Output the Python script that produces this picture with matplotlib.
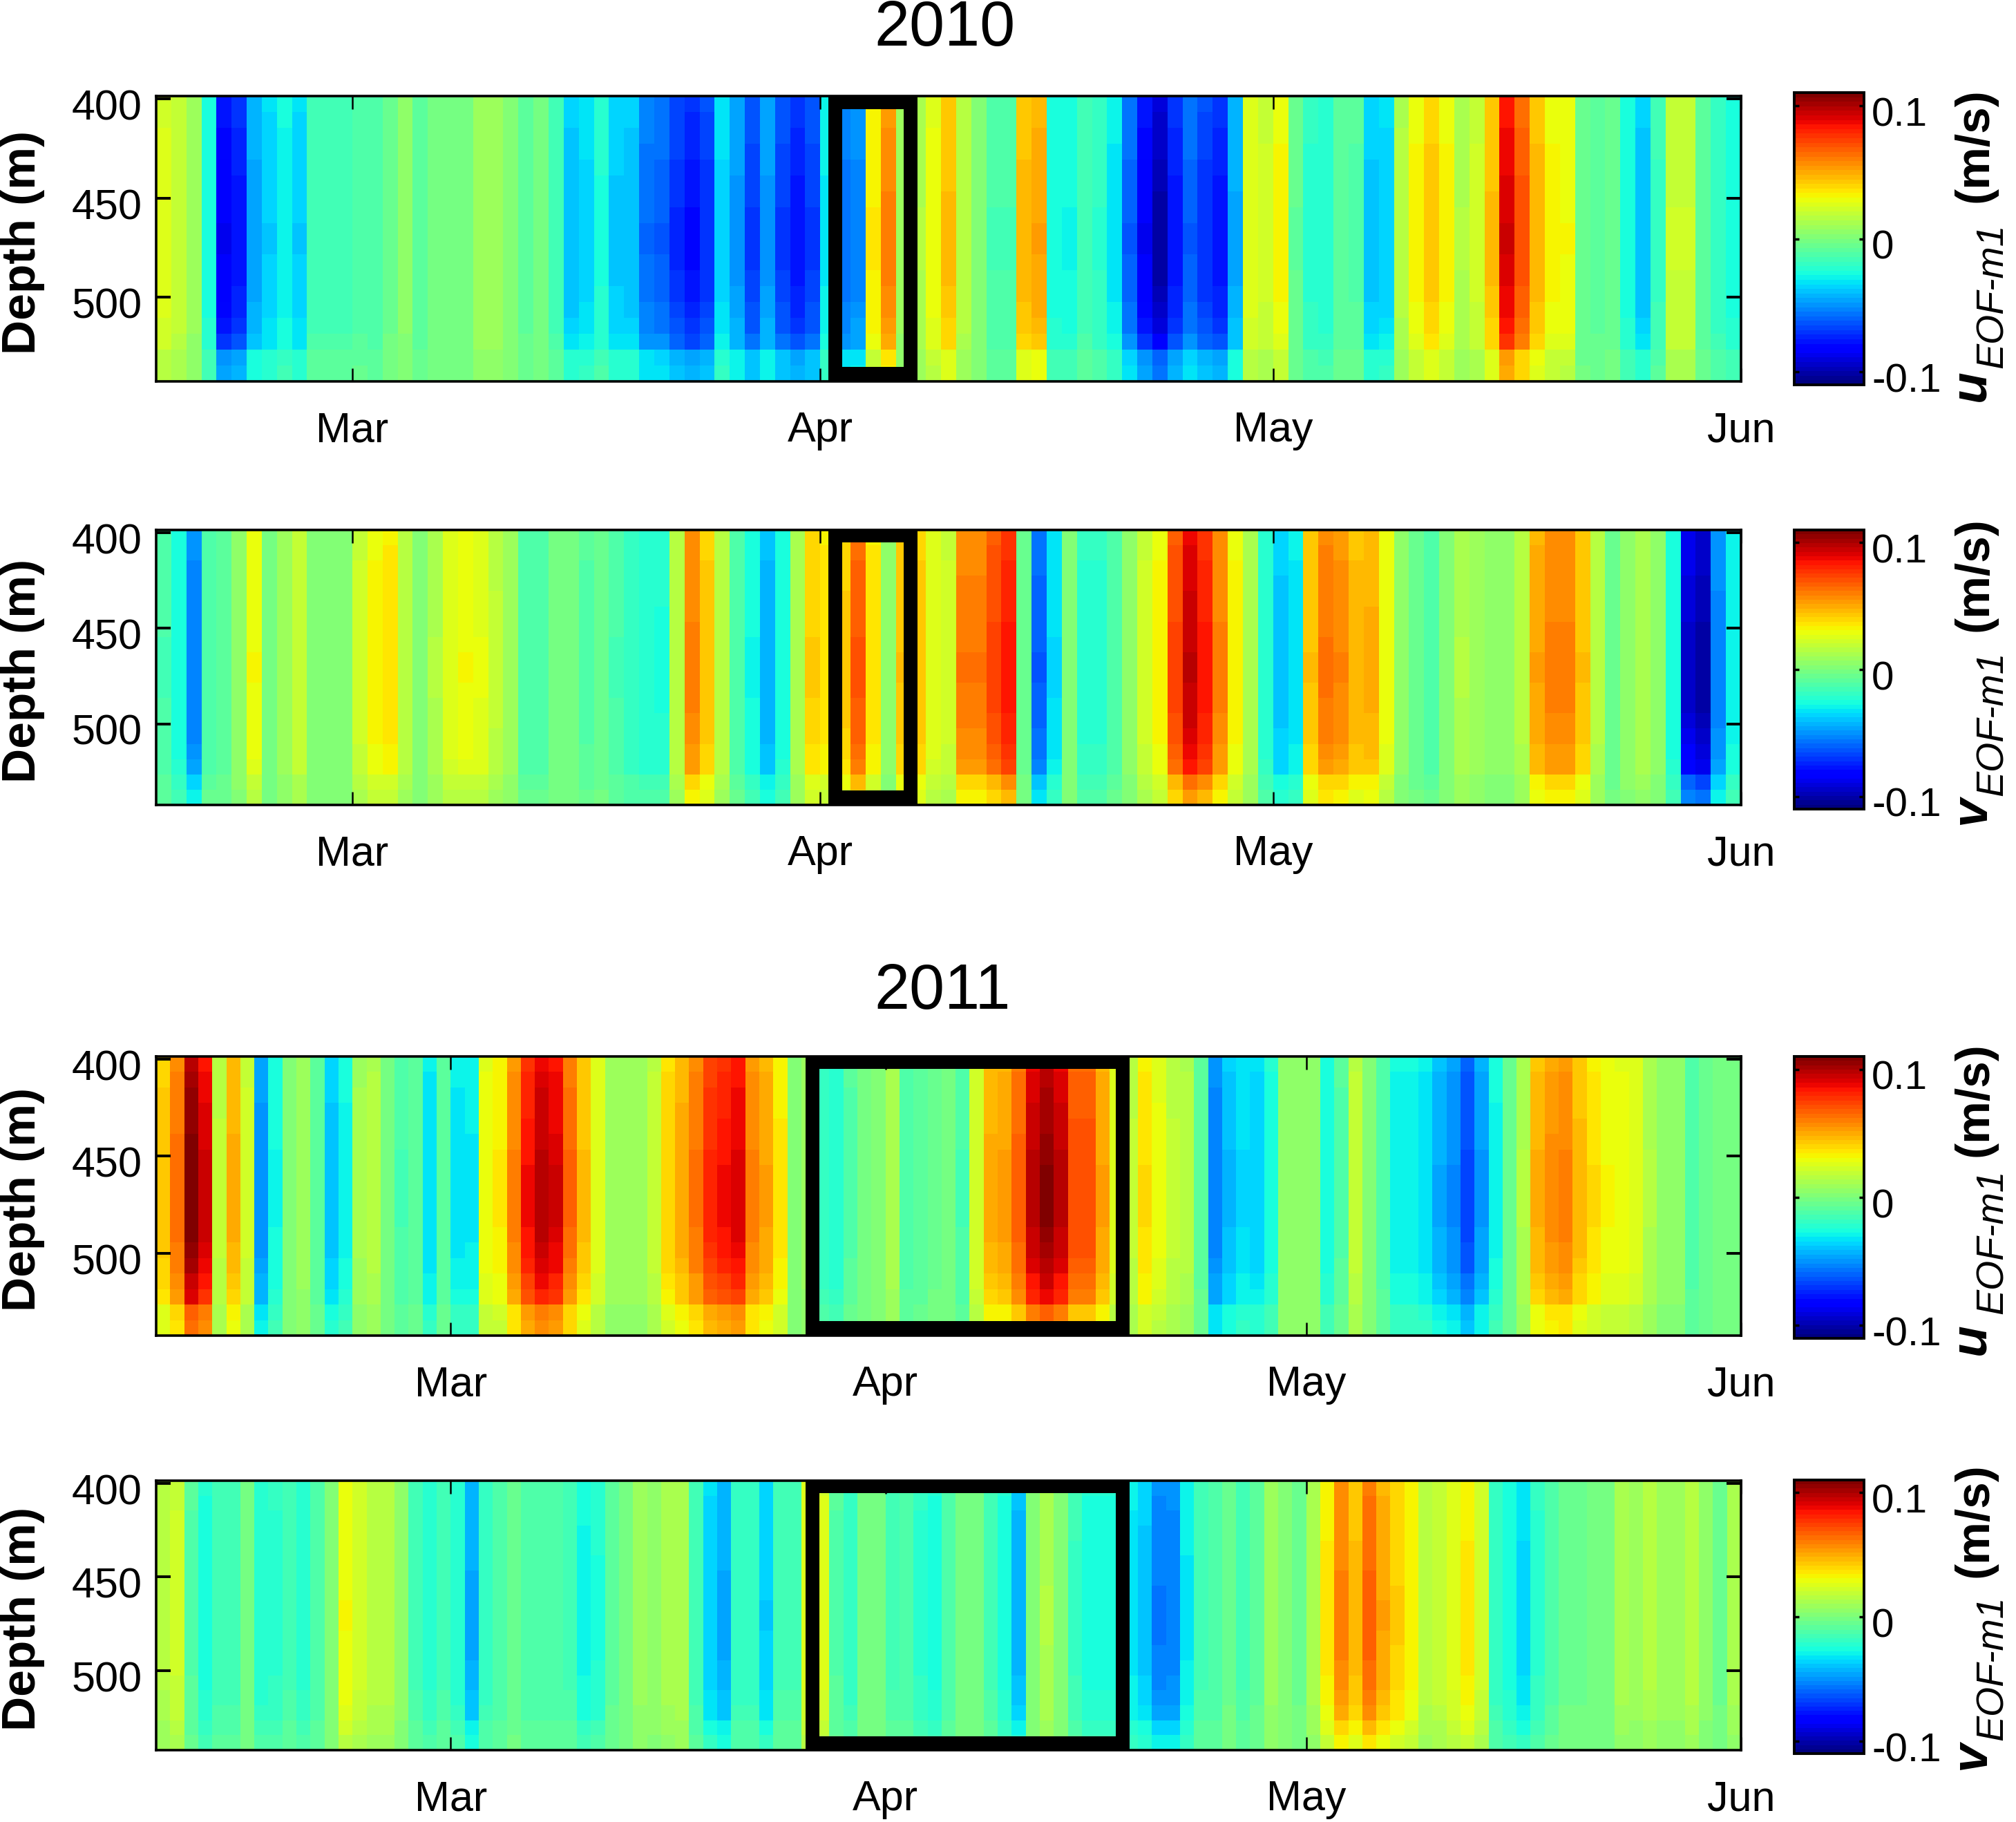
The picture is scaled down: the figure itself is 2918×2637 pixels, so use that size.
import matplotlib
matplotlib.use('Agg')
import matplotlib.pyplot as plt
import matplotlib.transforms as mtrans
from matplotlib.patches import Rectangle
import numpy as np

plt.rcParams['font.family'] = ['Liberation Sans', 'DejaVu Sans']

W, H = 2918, 2637

# mid-depth amplitude of each daily column, mm/s
u10 = [26,20,8,-27,-86,-78,-47,-38,-30,-38, -16,-16,-16,-12,-13,-4,4,-10,-1,-1,
       -1,9,10,1,-8,-1,-16,-41,-36,-25, -39,-41,-59,-62,-73,-80,-72,-36,-50,-70,
       -50,-70,-78,-70,-32,-58,-54,35,60,8, 14,30,46,16,1,-14,-14,47,52,-27,
       -28,-16,-21,-33,-62,-86,-102,-78,-62,-72, -78,-46,27,22,33,-7,-22,-24,-9,-11,
       -40,-37,15,33,44,33,14,22,46,93, 71,48,33,31,-6,-8,-5,-27,-41,-18,
       21,21,-9,-20,-27]
v10 = [-14,-27,-55,-12,-8,6,31,-3,8,20, 1,1,3,22,33,37,16,2,14,27,
       31,28,18,8,-12,-12,-3,-3,-11,-6, -14,-20,-24,-25,17,60,44,16,-12,-28,
       -44,-27,13,42,37,43,70,37,5,45, 44,27,22,62,62,74,85,-5,-62,-35,
       1,-22,-22,-12,5,22,33,74,97,85, 60,33,13,-23,-40,-33,45,63,59,48,
       50,30,4,-6,-12,1,14,9,5,4, 15,52,60,60,45,15,-6,6,12,5,
       -27,-95,-102,-54,-30]
u11 = [44,64,110,95,18,50,22,-51,-28,3, 8,-10,-40,-29,11,15,-3,-14,-10,-34,
       -10,-33,-32,30,35,60,86,99,93,66, 46,27,10,10,10,19,41,51,63,81,
       86,92,60,52,36,1,8,-20,-24,-11, -1,0,12,-12,-10,-4,-1,-14,24,50,
       53,68,98,107,98,72,72,52,27,18, 38,29,18,15,-8,-55,-42,-35,-37,-26,
       6,6,6,-27,-11,19,3,-12,-30,-30, -34,-45,-52,-67,-49,-29,-6,14,49,57,
       60,47,38,31,30,27,14,5,5,-12, -6,-1,-1]
v11 = [15,22,-11,-26,-16,-16,-3,-24,-22,-15, -23,-13,1,31,23,16,16,5,-15,-23,
       -15,-24,-46,-20,-13,-6,-13,-13,-13,-15, -29,-25,-8,-3,8,6,12,13,-16,-37,
       -46,-20,-20,-38,-15,-15,27,26,-11,-20, -3,-3,-15,-13,-22,-26,-13,-3,-3,-15,
       -26,-44,1,14,1,-18,-26,-26,-26,-33, -40,-56,-55,-32,-15,-13,-4,-15,-8,8,
       2,-4,12,36,60,47,67,52,42,34, 16,20,27,36,23,-20,-27,-36,-22,-12,
       -4,-4,-3,-3,12,9,15,9,9,16, 5,-4,12]

# depth shape of the mode, 18 rows of 8 m, fraction of the mid-depth value
shape_u10 = [.90,.91,.93,.94,.96,.97,.98,.99,1,1,.99,.98,.96,.93,.89,.83,.58,.55]
shape_v10 = [.92,.93,.94,.95,.96,.97,.98,.99,1,1,.99,.98,.96,.94,.90,.86,.65,.55]
shape_u11 = [.90,.93,.94,.95,.96,.97,.99,1,1,1,1,.98,.96,.93,.87,.82,.62,.58]
shape_v11 = [.92,.93,.94,.95,.96,.97,.98,.99,1,1,.99,.98,.96,.93,.89,.85,.67,.54]

depth_edges = np.arange(19) * 8 + 398.5
start_doy = [47, 47, 39, 39]  # Feb 16 2010, Feb 8 2011
month_doy = [60, 91, 121, 152]
month_names = ['Mar', 'Apr', 'May', 'Jun']
depth_ticks = [400, 450, 500]
cbar_ticks = [-0.1, 0, 0.1]
cbar_labels = ['-0.1', '0', '0.1']
comp_names = ['u', 'v', 'u', 'v']

series = [u10, v10, u11, v11]
shapes = [shape_u10, shape_v10, shape_u11, shape_v11]
# day-of-year limits of the black boxes
box_days = [(92, 97), (92, 97), (85.8, 107.9), (85.8, 107.9)]

# pixel layout (top, bottom) of the axes and colorbars
ax_px = [(139, 552), (767, 1165), (1529, 1933), (2143, 2533)]
cb_px = [(134, 557), (767, 1171), (1529, 1937), (2142, 2538)]
# centres of the side label pieces: (m/s), subscript, u or v
lab_px = [(210, 428, 558), (831, 1047, 1172), (1591, 1797, 1938), (2200, 2414, 2540)]


def px_rect(x0, x1, y0, y1):
    return [x0 / W, 1 - y1 / H, (x1 - x0) / W, (y1 - y0) / H]


fig = plt.figure(figsize=(W / 100, H / 100), dpi=100)
cmap = plt.get_cmap('jet', 64)
offset = mtrans.ScaledTranslation(0, -6 / 72, fig.dpi_scale_trans)

for i in range(4):
    ax = fig.add_axes(px_rect(226, 2520, *ax_px[i]))
    vals = np.outer(shapes[i], series[i]) / 1000.0
    x_edges = start_doy[i] + np.arange(len(series[i]) + 1)
    mesh = ax.pcolormesh(x_edges, depth_edges, vals, cmap=cmap, vmin=-0.11, vmax=0.11)
    ax.set_xlim(x_edges[0], x_edges[-1])
    ax.set_ylim(depth_edges[-1], depth_edges[0])
    ax.set_xticks(month_doy)
    ax.set_xticklabels(month_names)
    ax.set_yticks(depth_ticks)
    ax.tick_params(axis='x', direction='in', top=True, length=13.5, width=1.8, pad=31, labelsize=44)
    ax.tick_params(axis='y', direction='in', right=True, length=15, width=2.8, pad=15, labelsize=44)
    for lab in ax.get_yticklabels():
        lab.set_transform(lab.get_transform() + offset)
    for sp in ax.spines.values():
        sp.set_linewidth(2.6)

    b0, b1 = box_days[i]
    ax.add_patch(Rectangle((b0, 401.5), b1 - b0, 137.2, fill=False, ec='k', lw=14.4, joinstyle='miter'))

    mid = sum(ax_px[i]) / 2
    fig.text(33 / W, 1 - (mid + 5) / H, 'Depth (m)', rotation=90, ha='center', va='center',
             fontsize=50, fontweight='bold')

    cax = fig.add_axes(px_rect(2597, 2698, *cb_px[i]))
    cb = fig.colorbar(mesh, cax=cax, ticks=cbar_ticks)
    cb.set_ticklabels(cbar_labels)
    cax.yaxis.set_ticks_position('both')
    cax.tick_params(axis='y', direction='in', length=5, width=2.5, pad=8, labelsize=42,
                    left=True, right=True, labelleft=False, labelright=True)
    for lab in cax.get_yticklabels():
        lab.set_transform(lab.get_transform() + offset)
    cb.outline.set_linewidth(2.8)

    y_unit, y_sub, y_comp = lab_px[i]
    fig.text(2859 / W, 1 - y_unit / H, '(m/s)', rotation=90, ha='center', va='center',
             fontsize=50, fontweight='bold')
    fig.text(2885 / W, 1 - y_sub / H, 'EOF-m1', rotation=90, ha='center', va='center',
             fontsize=40, fontstyle='italic')
    fig.text(2853 / W, 1 - y_comp / H, comp_names[i], rotation=90, ha='center', va='center',
             fontsize=54, fontweight='bold', fontstyle='italic')

fig.text(1368 / W, 1 - 42 / H, '2010', ha='center', va='center', fontsize=66)
fig.text(1364 / W, 1 - 1436 / H, '2011', ha='center', va='center', fontsize=66)

fig.savefig('out.png', dpi=100, facecolor='white')
